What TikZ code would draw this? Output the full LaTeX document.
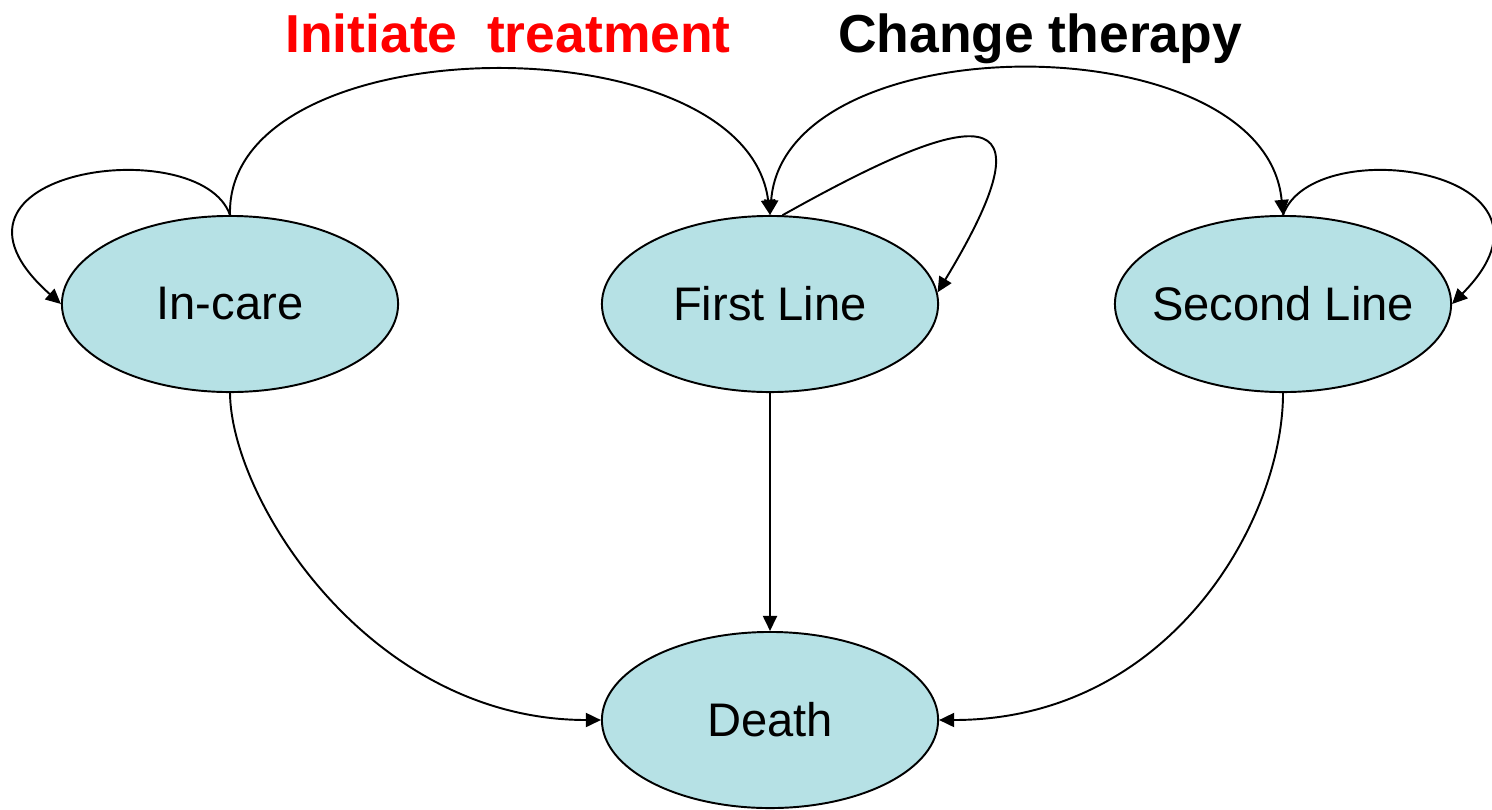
\documentclass[tikz,border=0pt]{standalone}
\usepackage{fontspec}
\setmainfont{Liberation Sans}
\usetikzlibrary{shapes.geometric,arrows.meta}
\definecolor{statefill}{RGB}{182,225,229}
\definecolor{titlered}{RGB}{255,0,0}
\begin{document}
\begin{tikzpicture}[x=0.01cm,y=-0.01cm,
  state/.style={ellipse,draw,line width=0.55pt,fill=statefill,minimum width=3.36cm,minimum height=1.76cm,inner ysep=0pt,inner xsep=-8pt,font=\fontsize{13.4}{16}\selectfont},
  link/.style={draw,line width=0.55pt,-{Triangle[length=4.3pt,width=4pt]}},
  both/.style={draw,line width=0.55pt,{Triangle[length=4.3pt,width=4pt]}-{Triangle[length=4.3pt,width=4pt]}},
  title/.style={font=\fontsize{15.2}{18}\selectfont\bfseries,anchor=base,inner sep=0pt}]
\useasboundingbox (0,0) rectangle (1492,809);
\node[state] (in) at (230,304) {In-care};
\node[state] (fl) at (770,304) {First Line};
\node[state] (sl) at (1283,304) {Second Line};
\node[state] (de) at (770,720) {Death};
\node[title,text=titlered] (t1) at (508,52) {Initiate\ \ treatment};
\node[title] (t2) at (1040,52) {Change therapy};
\draw[link] (in.north) .. controls (200,130) and (-90,170) .. (in.west);
\draw[link] (in.north) .. controls (225,24) and (745,19) .. (fl.north);
\draw[both] (fl.north) .. controls (785,22) and (1265,22) .. (sl.north);
\draw[link] (fl.82) .. controls (970,110) and (1060,90) .. (fl.4);
\draw[link] (sl.north) .. controls (1313,130) and (1585,170) .. (sl.east);
\draw[link] (in.south) .. controls (231,500) and (370,720) .. (de.west);
\draw[link] (fl.south) -- (de.north);
\draw[link] (sl.south) .. controls (1283,520) and (1170,720) .. (de.east);
\end{tikzpicture}
\end{document}
